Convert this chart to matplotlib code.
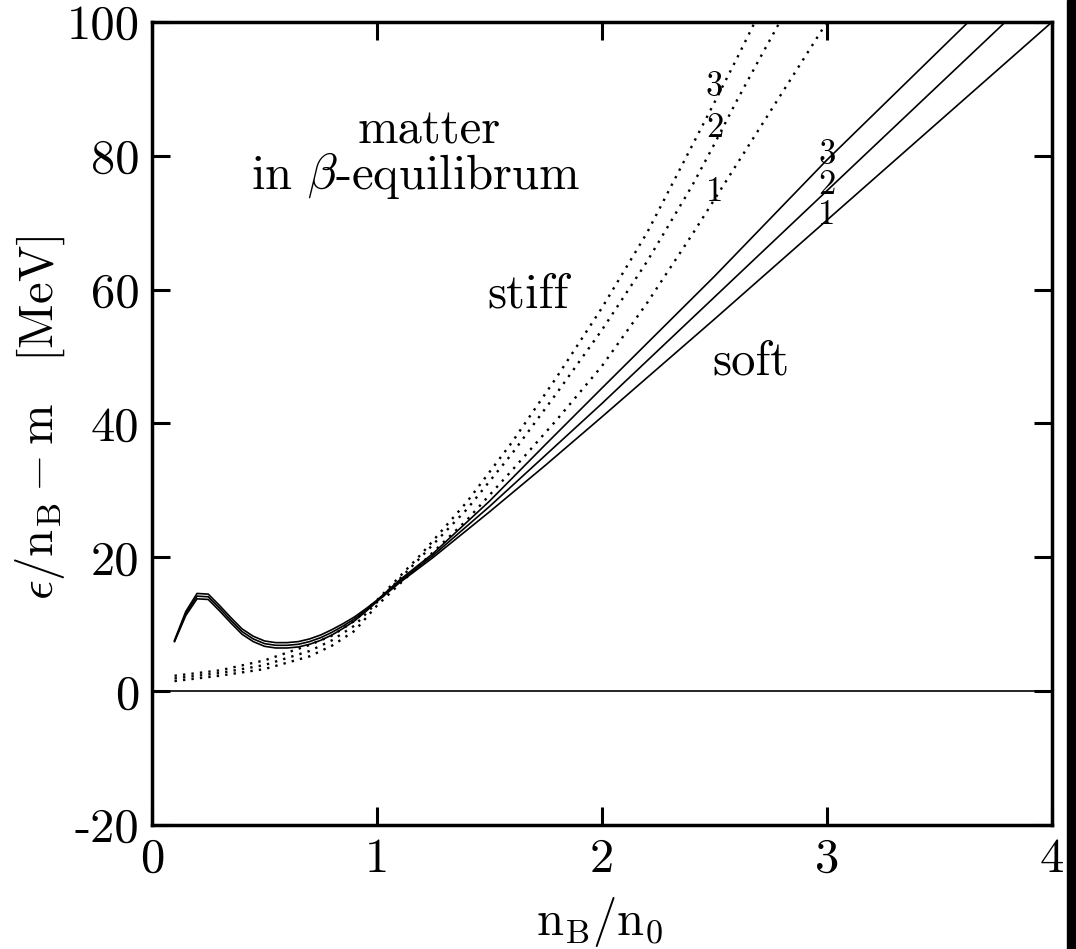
import matplotlib
matplotlib.use('Agg')
import matplotlib.pyplot as plt
from matplotlib.patches import Rectangle

plt.rcParams['font.family'] = 'serif'
plt.rcParams['font.serif'] = ['cmr10', 'DejaVu Serif']
plt.rcParams['mathtext.fontset'] = 'cm'
plt.rcParams['axes.unicode_minus'] = False

# soft EOS (solid), curves 1..3
soft_x = [0.1, 0.15, 0.2, 0.25, 0.3, 0.35, 0.4, 0.45, 0.5, 0.55, 0.6, 0.65,
          0.7, 0.75, 0.8, 0.85, 0.9, 0.95, 1.0, 1.1, 1.25, 1.5, 1.75, 2.0,
          2.5, 3.0, 3.5, 4.0]
soft_1 = [7.4, 11.3, 13.8, 13.7, 12.0, 10.2, 8.5, 7.4, 6.7, 6.45, 6.45, 6.6,
          7.0, 7.6, 8.4, 9.4, 10.5, 11.9, 13.4, 16.2, 20.0, 26.8, 33.8, 41.0,
          55.6, 70.4, 85.2, 100.0]
soft_2 = [7.5, 11.6, 14.2, 14.1, 12.4, 10.6, 8.9, 7.8, 7.1, 6.85, 6.85, 7.0,
          7.4, 8.0, 8.8, 9.75, 10.8, 12.1, 13.5, 16.4, 20.3, 27.6, 35.3, 43.0,
          58.9, 74.8, 90.7, 106.6]
soft_3 = [7.6, 11.9, 14.6, 14.5, 12.8, 11.0, 9.3, 8.2, 7.5, 7.25, 7.25, 7.4,
          7.8, 8.4, 9.2, 10.1, 11.1, 12.3, 13.6, 16.6, 20.6, 28.4, 36.9, 45.3,
          62.0, 79.4, 95.8, 112.2]

# stiff EOS (dotted), curves 1..3
stiff_x = [0.1, 0.3, 0.5, 0.7, 0.8, 0.9, 1.0, 1.2, 1.4, 1.6, 1.8, 2.0, 2.2,
           2.4, 2.5, 2.6, 2.7, 2.8, 3.0, 3.1]
stiff_1 = [1.5, 2.3, 3.3, 5.2, 6.8, 9.0, 12.8, 19.2, 25.6, 33.0, 40.6, 48.6,
           58.0, 68.2, 73.5, 78.8, 84.1, 89.4, 100.0, 105.6]
stiff_2 = [1.9, 2.7, 3.9, 6.0, 7.6, 9.8, 13.3, 20.2, 27.2, 35.5, 44.6, 54.0,
           64.2, 75.5, 81.8, 88.3, 94.5, 100.6, 113.0, 119.0]
stiff_3 = [2.3, 3.1, 4.6, 6.9, 8.3, 10.5, 13.6, 20.6, 28.3, 37.2, 47.0, 57.3,
           68.5, 81.5, 88.0, 94.6, 101.4, 108.0, 121.0, 128.0]

fig = plt.figure(figsize=(10.76, 9.49), dpi=100)
ax = fig.add_axes([0.1413, 0.1307, 0.8364, 0.8461])

dots = (0, (1.0, 2.6))
for y in (stiff_1, stiff_2, stiff_3):
    ax.plot(stiff_x, y, color='black', lw=1.7, ls=dots)
for y in (soft_1, soft_2, soft_3):
    ax.plot(soft_x, y, color='black', lw=1.2)
ax.axhline(0, color='black', lw=1.2)

ax.set_xlim(0, 4)
ax.set_ylim(-20, 100)
ax.set_xticks([0, 1, 2, 3, 4])
ax.set_yticks([-20, 0, 20, 40, 60, 80, 100])
ax.tick_params(direction='in', length=13, width=2.2, top=True, right=True,
               labelsize=35, pad=9)
for sp in ax.spines.values():
    sp.set_linewidth(2.5)

tfs = 35
ax.text(1.23, 83.6, 'matter', ha='center', va='center', fontsize=tfs)
ax.text(1.17, 77.0, r'in $\beta$-equilibrum', ha='center', va='center', fontsize=tfs)
ax.text(1.67, 59.2, 'stiff', ha='center', va='center', fontsize=tfs)
ax.text(2.66, 49.2, 'soft', ha='center', va='center', fontsize=tfs)

lfs = 25
for lab, yy in (('3', 90.3), ('2', 84.2), ('1', 74.6)):
    ax.text(2.50, yy, lab, ha='center', va='center', fontsize=lfs)
for lab, yy in (('3', 80.1), ('2', 75.6), ('1', 71.1)):
    ax.text(3.00, yy, lab, ha='center', va='center', fontsize=lfs)

fig.text(40 / 1076, 1 - 418 / 949,
         r'$\epsilon/\mathrm{n_B} - \mathrm{m}\ \ \ [\mathrm{MeV}]$',
         rotation=90, ha='center', va='center', fontsize=35)
fig.text(600 / 1076, 1 - 922 / 949, r'$\mathrm{n_B/n_0}$',
         ha='center', va='center', fontsize=35)

# black bar at the right edge
fig.patches.append(Rectangle((1067 / 1076, 0), 9 / 1076, 1,
                             transform=fig.transFigure, color='black'))

fig.savefig('out.png', dpi=100)
